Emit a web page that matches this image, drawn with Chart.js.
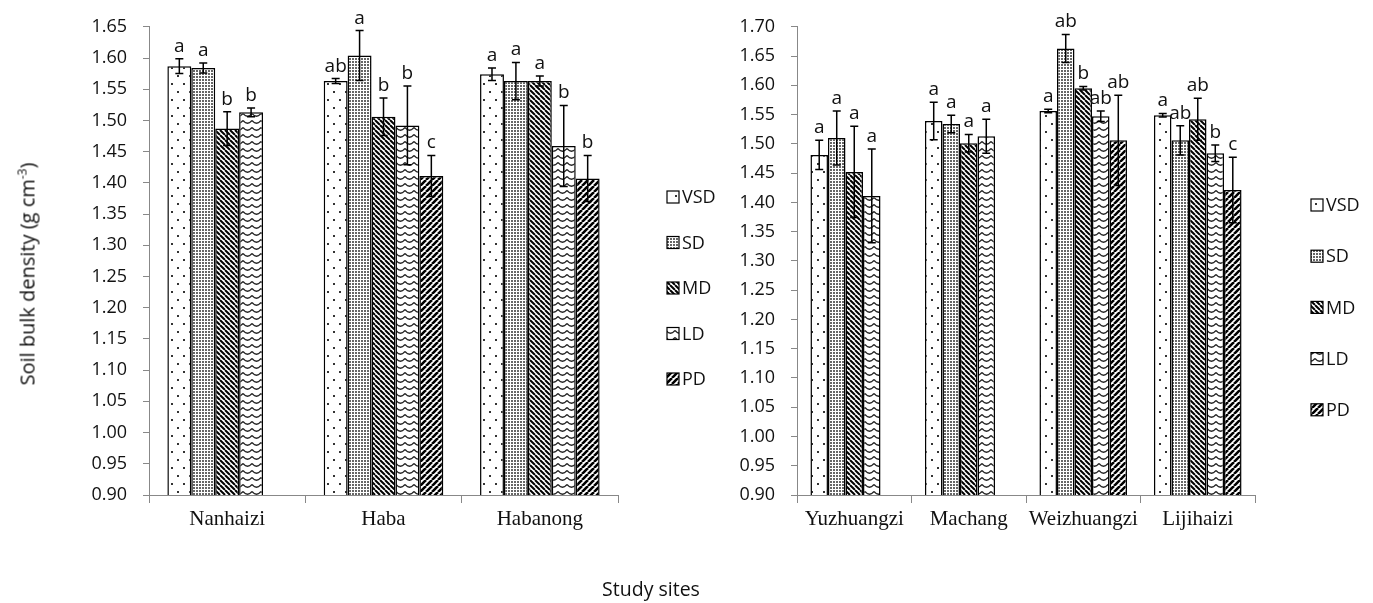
<!DOCTYPE html>
<html>
<head>
<meta charset="utf-8">
<script src="https://cdn.jsdelivr.net/npm/chart.js@4/dist/chart.umd.min.js"></script>
<style>
  html, body { margin: 0; padding: 0; background: #fff; }
  body { width: 1373px; height: 603px; position: relative; overflow: hidden; font-family: 'Open Sans', sans-serif; }
  .panel { position: absolute; top: 0; }
  #ytitle {
    position: absolute; left: 27px; top: 274px; white-space: nowrap;
    transform: translate(-50%, -50%) rotate(-90deg);
    font-size: 20px; color: #111;
  }
  #ytitle sup { font-size: 12px; }
  #xtitle {
    position: absolute; left: 651px; top: 588px; transform: translate(-50%, -50%);
    font-size: 19.5px; color: #111; white-space: nowrap;
  }
</style>
</head>
<body>
<div class="panel" style="left:0px"><canvas id="leftChart" width="730" height="603"></canvas></div>
<div class="panel" style="left:730px"><canvas id="rightChart" width="643" height="603"></canvas></div>
<div id="ytitle">Soil bulk density (g cm<sup>-3</sup>)</div>
<div id="xtitle">Study sites</div>
<script>
// grazing levels (one dataset each)
const levels = ['VSD', 'SD', 'MD', 'LD', 'PD'];

// left panel
const leftSites = ['Nanhaizi', 'Haba', 'Habanong'];
const leftMeans = [
  [1.587, 1.563, 1.574],
  [1.584, 1.604, 1.563],
  [1.487, 1.506, 1.563],
  [1.513, 1.492, 1.459],
  [null, 1.411, 1.407]
];
const leftErrors = [
  [0.012, 0.004, 0.010],
  [0.008, 0.040, 0.030],
  [0.027, 0.030, 0.008],
  [0.007, 0.063, 0.065],
  [0, 0.033, 0.037]
];
const leftLetters = [
  ['a', 'ab', 'a'],
  ['a', 'a', 'a'],
  ['b', 'b', 'a'],
  ['b', 'b', 'b'],
  ['', 'c', 'b']
];

// right panel
const rightSites = ['Yuzhuangzi', 'Machang', 'Weizhuangzi', 'Lijihaizi'];
const rightMeans = [
  [1.481, 1.539, 1.556, 1.549],
  [1.510, 1.534, 1.663, 1.506],
  [1.452, 1.501, 1.595, 1.542],
  [1.411, 1.513, 1.547, 1.484],
  [null, null, 1.506, 1.421]
];
const rightErrors = [
  [0.025, 0.032, 0.003, 0.003],
  [0.046, 0.015, 0.024, 0.025],
  [0.078, 0.015, 0.003, 0.036],
  [0.080, 0.029, 0.009, 0.014],
  [0, 0, 0.077, 0.056]
];
const rightLetters = [
  ['a', 'a', 'a', 'a'],
  ['a', 'a', 'ab', 'ab'],
  ['a', 'a', 'b', 'ab'],
  ['a', 'a', 'ab', 'b'],
  ['', '', 'ab', 'c']
];

function makePattern(w, h, draw) {
  const c = document.createElement('canvas');
  c.width = w; c.height = h;
  const g = c.getContext('2d');
  g.fillStyle = '#fff';
  g.fillRect(0, 0, w, h);
  draw(g, w, h);
  return g.createPattern(c, 'repeat');
}

const patterns = [
  // VSD sparse dots
  makePattern(12, 16, g => {
    g.fillStyle = '#333';
    g.fillRect(3, 3, 2, 2);
    g.fillRect(9, 11, 2, 2);
  }),
  // SD dense dots
  makePattern(3, 3, g => {
    g.fillStyle = '#666';
    g.fillRect(1, 1, 2, 2);
  }),
  // MD back diagonal
  makePattern(5, 5, g => {
    g.strokeStyle = '#000'; g.lineWidth = 2;
    g.beginPath();
    for (let x0 = -5; x0 <= 5; x0 += 5) { g.moveTo(x0, 0); g.lineTo(x0 + 5, 5); }
    g.stroke();
  }),
  // LD waves
  makePattern(9, 7, g => {
    g.strokeStyle = '#222'; g.lineWidth = 1.3;
    g.beginPath();
    g.moveTo(0, 1.5); g.quadraticCurveTo(4.5, 7, 9, 1.5);
    g.stroke();
  }),
  // PD forward diagonal
  makePattern(6, 6, g => {
    g.strokeStyle = '#000'; g.lineWidth = 2.6;
    g.beginPath();
    for (let x0 = -6; x0 <= 6; x0 += 6) { g.moveTo(x0, 6); g.lineTo(x0 + 6, 0); }
    g.stroke();
  })
];

const errorBars = {
  id: 'errorBars',
  afterDatasetsDraw(chart, args, opts) {
    const ctx = chart.ctx;
    const y = chart.scales.y;
    chart.data.datasets.forEach((ds, i) => {
      chart.getDatasetMeta(i).data.forEach((bar, j) => {
        const v = ds.data[j];
        if (v == null) return;
        const e = opts.errors[i][j];
        const top = y.getPixelForValue(v + e);
        const bot = y.getPixelForValue(v - e);
        ctx.save();
        ctx.strokeStyle = '#000';
        ctx.lineWidth = 1.5;
        ctx.beginPath();
        ctx.moveTo(bar.x, top); ctx.lineTo(bar.x, bot);
        ctx.moveTo(bar.x - 4, top); ctx.lineTo(bar.x + 4, top);
        ctx.moveTo(bar.x - 4, bot); ctx.lineTo(bar.x + 4, bot);
        ctx.stroke();
        ctx.fillStyle = '#111';
        ctx.font = '19px "Open Sans"';
        ctx.textAlign = 'center';
        ctx.textBaseline = 'alphabetic';
        ctx.fillText(opts.letters[i][j], bar.x, top - 7);
        ctx.restore();
      });
    });
  }
};

const sideLegend = {
  id: 'sideLegend',
  afterDraw(chart, args, opts) {
    const ctx = chart.ctx;
    chart.data.datasets.forEach((ds, i) => {
      const yy = opts.top + i * opts.gap;
      ctx.save();
      ctx.fillStyle = ds.backgroundColor;
      ctx.fillRect(opts.x, yy - 6, 12, 12);
      ctx.strokeStyle = '#000';
      ctx.lineWidth = 1.2;
      ctx.strokeRect(opts.x, yy - 6, 12, 12);
      ctx.fillStyle = '#111';
      ctx.font = '18px "Open Sans"';
      ctx.textBaseline = 'middle';
      ctx.fillText(ds.label, opts.x + 15, yy + 1);
      ctx.restore();
    });
  }
};

function buildChart(id, sites, means, errors, letters, yMax, yWidth, padTop, padRight, legend) {
  const datasets = levels.map((lv, i) => ({
    label: lv,
    data: means[i],
    backgroundColor: patterns[i],
    borderColor: '#000',
    borderWidth: 1.5,
    barPercentage: 1,
    categoryPercentage: 0.765
  }));
  return new Chart(document.getElementById(id), {
    type: 'bar',
    data: { labels: sites, datasets: datasets },
    plugins: [errorBars, sideLegend],
    options: {
      responsive: false,
      animation: false,
      layout: { padding: { top: padTop, right: padRight, left: 0, bottom: 0 } },
      scales: {
        x: {
          afterFit: s => { s.height = 108; },
          grid: { drawOnChartArea: false, tickLength: 8, color: '#888', offset: true },
          border: { color: '#888' },
          ticks: {
            font: { family: '"Liberation Serif"', size: 21 },
            color: '#111',
            padding: 4,
            maxRotation: 0,
            minRotation: 0,
            autoSkip: false
          }
        },
        y: {
          min: 0.9,
          max: yMax,
          afterFit: s => { s.width = yWidth; },
          grid: { drawOnChartArea: false, tickLength: 6, color: '#888' },
          border: { color: '#888' },
          ticks: {
            stepSize: 0.05,
            padding: 16,
            color: '#111',
            font: { family: '"Open Sans"', size: 18 },
            callback: v => v.toFixed(2)
          }
        }
      },
      plugins: {
        legend: { display: false },
        tooltip: { enabled: false },
        errorBars: { errors: errors, letters: letters },
        sideLegend: legend
      }
    }
  });
}

buildChart('leftChart', leftSites, leftMeans, leftErrors, leftLetters, 1.65, 149, 19, 112,
  { x: 667, top: 197, gap: 45.5 });
buildChart('rightChart', rightSites, rightMeans, rightErrors, rightLetters, 1.70, 67, 23, 118,
  { x: 581, top: 205, gap: 51.2 });
</script>
</body>
</html>
